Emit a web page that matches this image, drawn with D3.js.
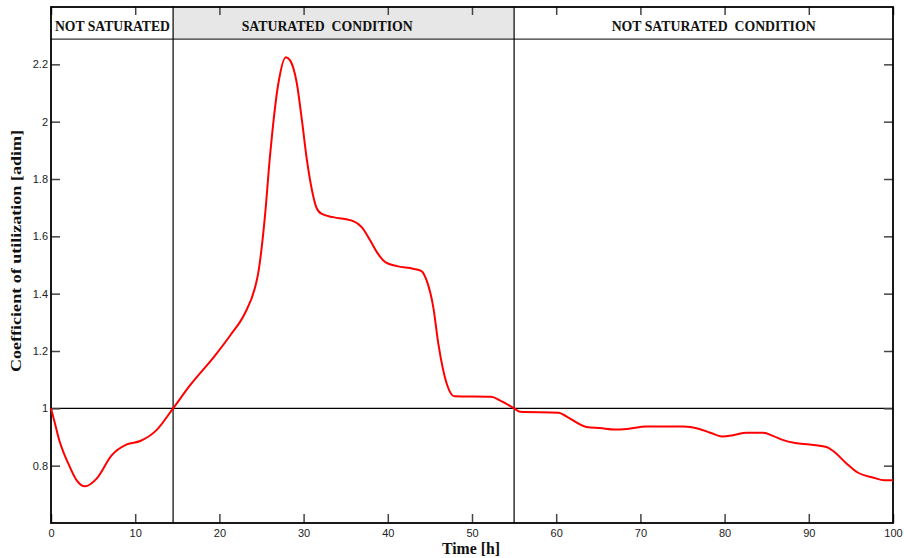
<!DOCTYPE html>
<html>
<head>
<meta charset="utf-8">
<script src="https://cdn.jsdelivr.net/npm/d3@7"></script>
<style>
  html, body { margin: 0; padding: 0; background: #fff; }
  svg { display: block; }
</style>
</head>
<body>
<svg id="chart" width="904" height="558"></svg>
<script>
// ---- data ----
const timeH = [0, 0.47, 0.99, 1.46, 2.06, 3.05, 4.04, 5.42, 7.2, 9.0, 10.6, 12.5, 14.5,
  16.5, 19.5, 21.3, 23.0, 24.2, 24.6, 25.4, 26.0, 27.0, 27.9, 28.4, 29.2, 29.8, 30.4, 31.0, 31.5, 32.1, 33.5, 35.9,
  36.9, 37.9, 38.7, 39.7, 41.1, 43.0, 44.0, 44.6, 45.4, 46.0, 47.0, 47.9, 52.3, 53.3, 55.0,
  55.7, 60.3, 61.2, 63.6, 65.2, 67.0, 68.4, 70.7, 75.1, 76.9, 78.3, 79.7, 81.0, 82.6, 84.6,
  85.8, 86.8, 88.4, 90.1, 92.1, 92.9, 94.5, 95.7, 97.7, 99.0, 100];
const coefUtil = [1.0, 0.947, 0.888, 0.848, 0.807, 0.749, 0.728, 0.755, 0.836, 0.874, 0.886, 0.923, 1.0,
  1.08, 1.185, 1.255, 1.33, 1.418, 1.47, 1.667, 1.877, 2.133, 2.225, 2.214, 2.133, 2.005, 1.865, 1.76, 1.702, 1.679, 1.667, 1.653,
  1.632, 1.586, 1.545, 1.51, 1.496, 1.487, 1.479, 1.447, 1.353, 1.226, 1.086, 1.042, 1.04, 1.028, 1.0,
  0.988, 0.985, 0.972, 0.935, 0.931, 0.926, 0.928, 0.937, 0.937, 0.929, 0.915, 0.902, 0.906, 0.915, 0.915,
  0.903, 0.891, 0.879, 0.874, 0.865, 0.851, 0.807, 0.778, 0.758, 0.749, 0.749];
const xTicks = [0, 10, 20, 30, 40, 50, 60, 70, 80, 90, 100];
const yTicks = [0.8, 1, 1.2, 1.4, 1.6, 1.8, 2, 2.2];
const regionBounds = [0, 14.5, 55, 100];
const regionLabels = ["NOT SATURATED", "SATURATED  CONDITION", "NOT SATURATED  CONDITION"];
const regionLabelCenters = [7.3, 32.8, 78.7];
const regionShaded = [false, true, false];
const headerBottomValue = 2.288;
const xDomain = [0, 100];
const yDomain = [0.6, 2.4];
const xTitle = "Time [h]";
const yTitle = "Coefficient of utilization [adim]";

// ---- layout ----
const svg = d3.select("#chart");
const L = 51, R = 893, T = 7, B = 523;
const x = d3.scaleLinear().domain(xDomain).range([L, R]);
const y = d3.scaleLinear().domain(yDomain).range([B, T]);
const serif = "'Liberation Serif', 'Times New Roman', serif";
const sans = "'Liberation Sans', Arial, sans-serif";

// header shading
const headerY = y(headerBottomValue);
regionLabels.forEach((lab, i) => {
  if (regionShaded[i]) {
    svg.append("rect")
      .attr("x", x(regionBounds[i])).attr("y", y(yDomain[1]))
      .attr("width", x(regionBounds[i + 1]) - x(regionBounds[i]))
      .attr("height", headerY - y(yDomain[1]))
      .attr("fill", "#e7e7e7");
  }
});

// header labels
const labelWidths = [115, 171, 204];
regionLabels.forEach((lab, i) => {
  svg.append("text")
    .attr("x", x(regionLabelCenters[i])).attr("y", 31)
    .attr("text-anchor", "middle")
    .attr("font-family", serif).attr("font-weight", "bold").attr("font-size", 15)
    .attr("textLength", labelWidths[i]).attr("lengthAdjust", "spacingAndGlyphs")
    .attr("fill", "#111")
    .style("white-space", "pre")
    .text(lab);
});

// header bottom line
svg.append("line").attr("x1", L).attr("x2", R).attr("y1", headerY).attr("y2", headerY)
  .attr("stroke", "#333").attr("stroke-width", 1.2);

// y = 1 reference line
svg.append("line").attr("x1", L).attr("x2", R).attr("y1", y(1)).attr("y2", y(1))
  .attr("stroke", "#000").attr("stroke-width", 1.2);

// region dividers
regionBounds.slice(1, -1).forEach(b => {
  svg.append("line").attr("x1", x(b)).attr("x2", x(b)).attr("y1", T).attr("y2", B)
    .attr("stroke", "#000").attr("stroke-width", 1.2);
});

// axes (ticks inward)
const tickColor = "#444";
const gB = svg.append("g").attr("transform", `translate(0,${B})`)
  .call(d3.axisBottom(x).tickValues(xTicks).tickSize(-9).tickPadding(14).tickFormat(d3.format("d")));
const gT = svg.append("g").attr("transform", `translate(0,${T})`)
  .call(d3.axisTop(x).tickValues(xTicks).tickSize(-8).tickFormat(""));
const gL = svg.append("g").attr("transform", `translate(${L},0)`)
  .call(d3.axisLeft(y).tickValues(yTicks).tickSize(-9).tickPadding(13).tickFormat(d => d3.format("")(d)));
const gR = svg.append("g").attr("transform", `translate(${R},0)`)
  .call(d3.axisRight(y).tickValues(yTicks).tickSize(-9).tickFormat(""));
[gB, gT, gL, gR].forEach(g => {
  g.select(".domain").remove();
  g.selectAll(".tick line").attr("stroke", tickColor).attr("stroke-width", 1.5);
  g.selectAll(".tick text").attr("font-family", sans).attr("font-size", 11).attr("fill", "#222");
});
gB.selectAll(".tick text").attr("dy", "0").attr("y", 14);
gL.selectAll(".tick text").attr("x", -3);

// frame
svg.append("rect").attr("x", L).attr("y", T).attr("width", R - L).attr("height", B - T)
  .attr("fill", "none").attr("stroke", "#000").attr("stroke-width", 1.8);

// data line
const line = d3.line().x((d, i) => x(timeH[i])).y(d => y(d)).curve(d3.curveMonotoneX);
svg.append("path").datum(coefUtil)
  .attr("d", line).attr("fill", "none").attr("stroke", "#ff0000").attr("stroke-width", 2);

// axis titles
svg.append("text").attr("x", 471).attr("y", 554)
  .attr("text-anchor", "middle")
  .attr("font-family", serif).attr("font-weight", "bold").attr("font-size", 16)
  .attr("textLength", 58).attr("lengthAdjust", "spacingAndGlyphs")
  .attr("fill", "#111").text(xTitle);
svg.append("text")
  .attr("transform", `translate(21,251) rotate(-90)`)
  .attr("text-anchor", "middle")
  .attr("font-family", serif).attr("font-weight", "bold").attr("font-size", 15)
  .attr("textLength", 242).attr("lengthAdjust", "spacingAndGlyphs")
  .attr("fill", "#111").text(yTitle);
</script>
</body>
</html>
